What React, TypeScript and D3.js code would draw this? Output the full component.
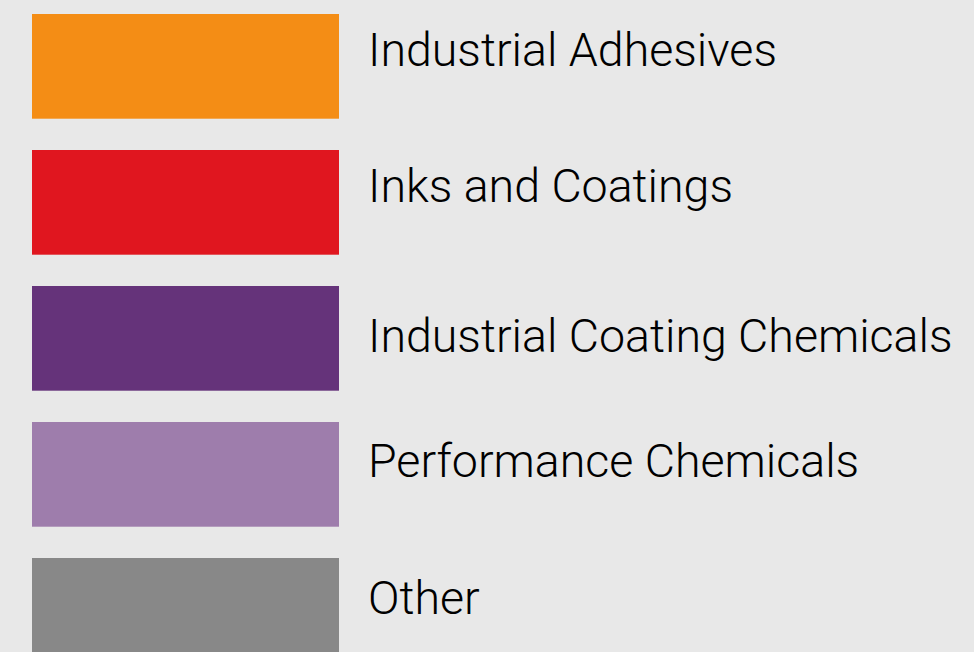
import * as d3 from "d3";

const categories = [
  "Industrial Adhesives",
  "Inks and Coatings",
  "Industrial Coating Chemicals",
  "Performance Chemicals",
  "Other",
];
const colors = ["#f48d15", "#e0161f", "#65337a", "#9e7dac", "#888888"];
// small vertical nudges of the label baselines, as drawn in the original
const labelNudge = [0, 0, 14, 3, 4];

const width = 974;
const height = 652;
const condense = 0.99;

export default function App() {
  const y = d3
    .scaleBand<string>()
    .domain(categories)
    .range([14, 662.7])
    .paddingInner(0.2302)
    .paddingOuter(0);

  const swatchX = 32;
  const swatchW = 307;
  const labelX = 368;

  return (
    <svg
      width={width}
      height={height}
      style={{ position: "fixed", top: 0, left: 0, background: "#e8e8e8" }}
    >
      <rect width={width} height={height} fill="#e8e8e8" />
      {categories.map((c, i) => (
        <g key={c}>
          <rect
            x={swatchX}
            y={y(c)}
            width={swatchW}
            height={y.bandwidth()}
            fill={colors[i]}
          />
          <text
            transform={`translate(${labelX},${(y(c) ?? 0) + 52 + labelNudge[i]}) scale(${condense},1)`}
            fontFamily="Roboto, sans-serif"
            fontWeight={300}
            fontSize={47}
            fill="#000"
          >
            {c}
          </text>
        </g>
      ))}
    </svg>
  );
}
